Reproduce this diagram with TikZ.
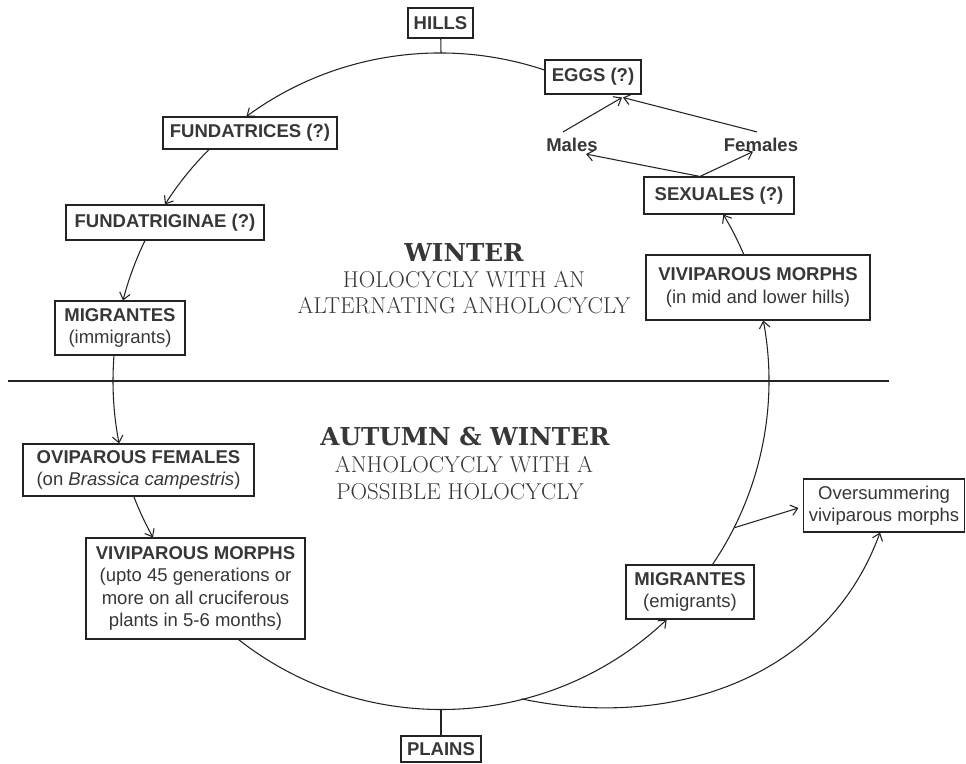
\documentclass[tikz,border=0pt]{standalone}
\usepackage{fontspec}
\usetikzlibrary{calc,arrows.meta}
\newfontfamily\lsans{Liberation Sans}
\newfontfamily\dvserif{DejaVu Serif}
\definecolor{ink}{RGB}{55,55,55}
\definecolor{rule}{RGB}{35,35,35}
\begin{document}
\begin{tikzpicture}[x=0.75pt,y=0.75pt,
  lab/.style={font=\lsans\fontsize{13.9}{16.7}\selectfont, text=ink, align=center, inner sep=0pt},
  box/.style={lab, draw=rule, line width=0.8pt, fill=white},
  sz/.style 2 args={minimum width=#1*0.75pt, minimum height=#2*0.75pt},
  conn/.style={draw=rule, line width=0.8pt},
  arr/.style={conn, -{Straight Barb[length=5pt,width=8pt,line width=0.8pt]}},
  head/.style={font=\dvserif\bfseries\fontsize{18.5}{22}\selectfont, text=ink, anchor=base, inner sep=0pt},
  sub/.style={font=\rmfamily\fontsize{17.2}{20}\selectfont, text=ink, anchor=base, inner sep=0pt},
]
\useasboundingbox (0,0) rectangle (966,-763);

% points on the life-cycle circle and the season divider
\coordinate (top) at (441,-53);
\coordinate (bot) at (441,-709);
\coordinate (jb) at (521.7,-698.9);
\coordinate (jr) at (734.4,-527.7);
\coordinate (divL) at (8,-381);
\coordinate (divR) at (889,-381);

% boxes
\node[box, sz={65}{30}] (hills) at (440.5,-23) {\textbf{HILLS}};
\node[box, sz={96}{34}] (eggs) at (593,-77) {\textbf{EGGS (?)}};
\node[box, sz={174}{32}] (fc) at (250,-133) {\textbf{FUNDATRICES (?)}};
\node[box, sz={198}{35}] (fg) at (165,-222.5) {\textbf{FUNDATRIGINAE (?)}};
\node[box, sz={130}{54}] (mi) at (120,-328) {\textbf{MIGRANTES}\\(immigrants)};
\node[box, sz={150}{37}] (sx) at (719,-195.5) {\textbf{SEXUALES (?)}};
\node[box, sz={224}{65}] (vh) at (758,-287.5) {\textbf{VIVIPAROUS MORPHS}\\(in mid and lower hills)};
\node[box, sz={231}{52}] (of) at (138.5,-470) {\textbf{OVIPAROUS FEMALES}\\(on \textit{Brassica campestris})};
\node[box, sz={219}{101}] (vp) at (195.5,-588.5) {\textbf{VIVIPAROUS MORPHS}\\(upto 45 generations or\\more on all cruciferous\\plants in 5-6 months)};
\node[box, sz={128}{54}] (me) at (690,-592) {\textbf{MIGRANTES}\\(emigrants)};
\node[box, sz={161}{53}] (os) at (884,-505.5) {Oversummering\\viviparous morphs};
\node[box, sz={80}{26}] (pl) at (441,-749) {\textbf{PLAINS}};
\node[lab] (ml) at (572,-144.5) {\textbf{Males}};
\node[lab] (fl) at (761,-144.5) {\textbf{Females}};

% season headings
\node[head] (hw) at (464,-261) {WINTER};
\node[sub] (hw1) at (464,-287) {HOLOCYCLY WITH AN};
\node[sub] (hw2) at (464,-313) {ALTERNATING ANHOLOCYCLY};
\node[head] (ha) at (465,-445) {AUTUMN \& WINTER};
\node[sub] (ha1) at (464,-472) {ANHOLOCYCLY WITH A};
\node[sub] (ha2) at (460,-499) {POSSIBLE HOLOCYCLY};

% connectors
\draw[conn] (hills) -- (top);
\draw[conn] (pl) -- (bot);
\draw[conn] (divL) -- (divR);
\draw[arr] ($(eggs.west)+(0,7)$) to[bend right=27.4, looseness=0.902] ($(fc.north)+(-3.6,0)$);
\draw[arr] ($(fc.south)+(-41,0)$) to[bend right=6.3, looseness=0.854] (fg.north);
\draw[arr] ($(fg.south)+(-20,0)$) to[bend right=5.7, looseness=0.853] ($(mi.north)+(3,0)$);
\draw[arr] ($(mi.south)+(-6,0)$) to[bend right=7.8, looseness=0.855] ($(of.north)+(-19.4,0)$);
\draw[arr] ($(of.south)+(-4.7,0)$) to[bend right=4.05, looseness=0.852] ($(vp.north)+(-42.5,0)$);
\draw[arr] ($(vp.south)+(43,0)$) to[bend right=40.8, looseness=0.969] ($(me.south)+(-23.3,0)$);
\draw[arr] ($(me.north)+(22.5,0)$) to[bend right=22.4, looseness=0.884] ($(vh.south)+(5.3,0)$);
\draw[arr] ($(vh.north)+(-14.2,0)$) to[bend right=4, looseness=0.852] ($(sx.south)+(4.3,0)$);
\draw[arr] ($(sx.north)+(-19,0)$) -- ($(ml.south)+(14,-2.5)$);
\draw[arr] ($(sx.north)+(-19,0)$) -- ($(fl.south)+(-8,0)$);
\draw[arr] ($(ml.north)+(-9,5.5)$) -- ($(eggs.south)+(29,-3)$);
\draw[arr] ($(fl.north)+(-4,5.5)$) -- ($(eggs.south)+(30,-3)$);
\draw[arr] (jr) -- ($(os.west)+(-4.5,-2.5)$);
\draw[arr] (jb) to[out=-12, in=-110] ($(os.south)+(-4,0)$);
\end{tikzpicture}
\end{document}
